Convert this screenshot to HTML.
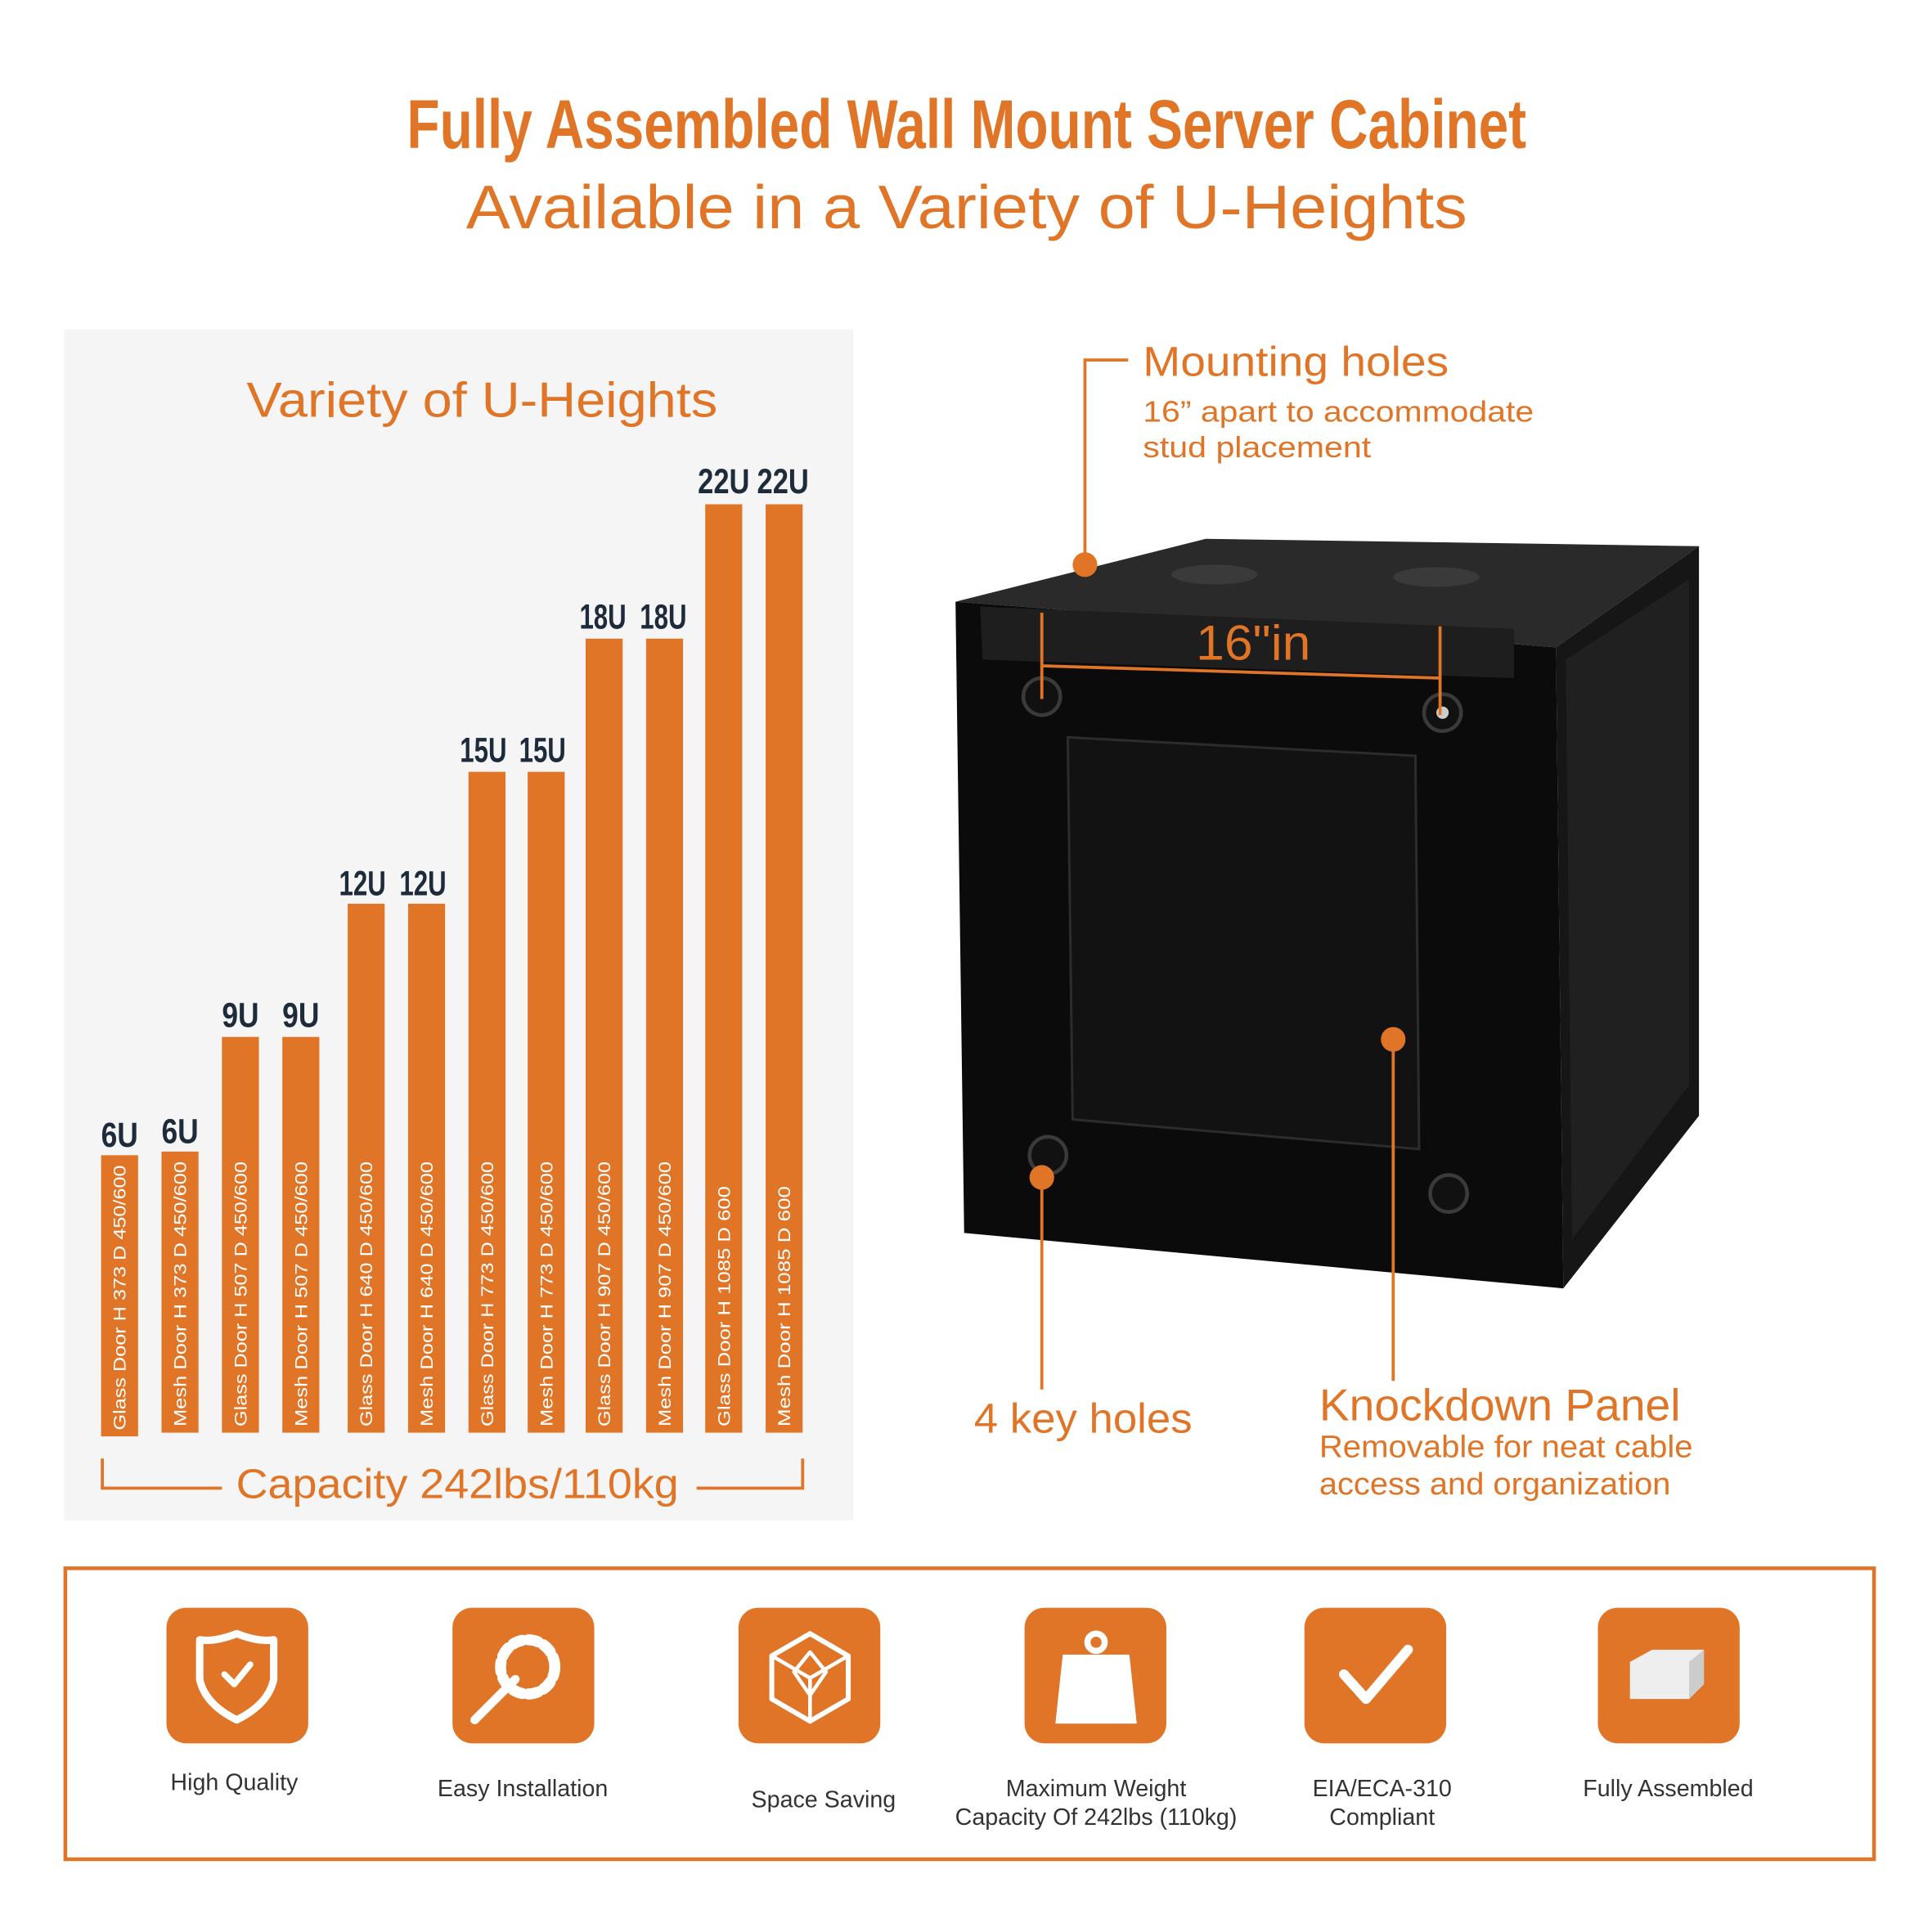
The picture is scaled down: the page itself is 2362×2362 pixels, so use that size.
<!DOCTYPE html>
<html><head><meta charset="utf-8"><style>html,body{margin:0;padding:0;background:#fff}svg{display:block}</style></head>
<body>
<svg width="2362" height="2362" viewBox="0 0 1567 1567" xmlns="http://www.w3.org/2000/svg" font-family="Liberation Sans, sans-serif">
<rect width="1567" height="1567" fill="#fff"/>
<text x="784" y="120" text-anchor="middle" font-size="56" font-weight="bold" fill="#e07527" textLength="908" lengthAdjust="spacingAndGlyphs">Fully Assembled Wall Mount Server Cabinet</text>
<text x="784" y="185" text-anchor="middle" font-size="50" fill="#e07527" textLength="812" lengthAdjust="spacingAndGlyphs">Available in a Variety of U-Heights</text>

<rect x="52" y="267" width="640" height="966" fill="#f5f5f5"/>
<text x="391" y="338" text-anchor="middle" font-size="40" fill="#e07527" textLength="382" lengthAdjust="spacingAndGlyphs">Variety of U-Heights</text>
<g fill="#e07527">
<rect x="82" y="937" width="30" height="228"/><rect x="131" y="934" width="30" height="228"/>
<rect x="180" y="841" width="30" height="321"/><rect x="229" y="841" width="30" height="321"/>
<rect x="282" y="733" width="30" height="429"/><rect x="331" y="733" width="30" height="429"/>
<rect x="380" y="626" width="30" height="536"/><rect x="428" y="626" width="30" height="536"/>
<rect x="475" y="518" width="30" height="644"/><rect x="524" y="518" width="30" height="644"/>
<rect x="572" y="409" width="30" height="753"/><rect x="621" y="409" width="30" height="753"/>
</g>
<g font-size="28" font-weight="bold" fill="#1d2b3a" text-anchor="middle">
<text x="97" y="930" textLength="30" lengthAdjust="spacingAndGlyphs">6U</text><text x="146" y="927" textLength="30" lengthAdjust="spacingAndGlyphs">6U</text>
<text x="195" y="833" textLength="30" lengthAdjust="spacingAndGlyphs">9U</text><text x="244" y="833" textLength="30" lengthAdjust="spacingAndGlyphs">9U</text>
<text x="294" y="726" textLength="38" lengthAdjust="spacingAndGlyphs">12U</text><text x="343" y="726" textLength="38" lengthAdjust="spacingAndGlyphs">12U</text>
<text x="392" y="618" textLength="38" lengthAdjust="spacingAndGlyphs">15U</text><text x="440" y="618" textLength="38" lengthAdjust="spacingAndGlyphs">15U</text>
<text x="489" y="510" textLength="38" lengthAdjust="spacingAndGlyphs">18U</text><text x="538" y="510" textLength="38" lengthAdjust="spacingAndGlyphs">18U</text>
<text x="587" y="400" textLength="42" lengthAdjust="spacingAndGlyphs">22U</text><text x="635" y="400" textLength="42" lengthAdjust="spacingAndGlyphs">22U</text>
</g>
<g font-size="14" fill="#fff">
<text transform="translate(102,1160) rotate(-90)" textLength="215" lengthAdjust="spacingAndGlyphs">Glass Door  H 373  D 450/600</text>
<text transform="translate(151,1157) rotate(-90)" textLength="215" lengthAdjust="spacingAndGlyphs">Mesh Door  H 373  D 450/600</text>
<text transform="translate(200,1157) rotate(-90)" textLength="215" lengthAdjust="spacingAndGlyphs">Glass Door  H 507  D 450/600</text>
<text transform="translate(249,1157) rotate(-90)" textLength="215" lengthAdjust="spacingAndGlyphs">Mesh Door  H 507  D 450/600</text>
<text transform="translate(302,1157) rotate(-90)" textLength="215" lengthAdjust="spacingAndGlyphs">Glass Door  H 640  D 450/600</text>
<text transform="translate(351,1157) rotate(-90)" textLength="215" lengthAdjust="spacingAndGlyphs">Mesh Door  H 640  D 450/600</text>
<text transform="translate(400,1157) rotate(-90)" textLength="215" lengthAdjust="spacingAndGlyphs">Glass Door  H 773  D 450/600</text>
<text transform="translate(448,1157) rotate(-90)" textLength="215" lengthAdjust="spacingAndGlyphs">Mesh Door  H 773  D 450/600</text>
<text transform="translate(495,1157) rotate(-90)" textLength="215" lengthAdjust="spacingAndGlyphs">Glass Door  H 907  D 450/600</text>
<text transform="translate(544,1157) rotate(-90)" textLength="215" lengthAdjust="spacingAndGlyphs">Mesh Door  H 907  D 450/600</text>
<text transform="translate(592,1157) rotate(-90)" textLength="195" lengthAdjust="spacingAndGlyphs">Glass Door  H 1085   D 600</text>
<text transform="translate(641,1157) rotate(-90)" textLength="195" lengthAdjust="spacingAndGlyphs">Mesh Door  H 1085   D 600</text>
</g>
<path d="M83 1183 V1207 H180 M565 1207 H651 V1183" stroke="#e07527" stroke-width="2.5" fill="none"/>
<text x="371" y="1215" text-anchor="middle" font-size="34" fill="#e07527" textLength="359" lengthAdjust="spacingAndGlyphs">Capacity 242lbs/110kg</text>

<!-- cabinet -->
<polygon points="775,488 978,437 1378,443 1262,525" fill="#2a2a2a"/>
<polygon points="1262,525 1378,443 1378,905 1268,1045" fill="#161616"/>
<polygon points="1270,535 1370,470 1370,880 1275,1005" fill="#202020"/>
<polygon points="775,488 1262,525 1268,1045 782,1000" fill="#0b0b0b"/>
<polygon points="795,492 1228,510 1228,550 797,535" fill="#1e1e1e"/>
<polygon points="866,598 1148,613 1151,932 870,908" fill="#121212" stroke="#2c2c2c" stroke-width="2"/>
<ellipse cx="985" cy="466" rx="35" ry="8" fill="#3a3a3a"/><ellipse cx="1165" cy="468" rx="35" ry="8" fill="#3a3a3a"/>
<g fill="#111" stroke="#3a3a3a" stroke-width="3"><circle cx="845" cy="565" r="15"/><circle cx="1170" cy="578" r="15"/><circle cx="850" cy="937" r="15"/><circle cx="1175" cy="968" r="15"/></g>
<circle cx="1170" cy="578" r="5" fill="#ccc"/>

<g stroke="#e07527" stroke-width="2.5" fill="none">
<path d="M845 497 V567 M1168 508 V580 M845 540 L1168 550"/>
<path d="M880 458 V292 H915"/>
<path d="M845 955 V1127"/>
<path d="M1130 843 V1120"/>
</g>
<g fill="#e07527"><circle cx="880" cy="458" r="10"/><circle cx="1130" cy="843" r="10"/><circle cx="845" cy="955" r="10"/></g>
<text x="970" y="535" font-size="40" fill="#e07527" textLength="93" lengthAdjust="spacingAndGlyphs">16"in</text>
<text x="927" y="305" font-size="34" fill="#e07527" textLength="248" lengthAdjust="spacingAndGlyphs">Mounting holes</text>
<text x="927" y="342" font-size="24" fill="#e07527" textLength="317" lengthAdjust="spacingAndGlyphs">16” apart to accommodate</text>
<text x="927" y="371" font-size="24" fill="#e07527" textLength="185" lengthAdjust="spacingAndGlyphs">stud placement</text>
<text x="790" y="1162" font-size="34" fill="#e07527" textLength="177" lengthAdjust="spacingAndGlyphs">4 key holes</text>
<text x="1070" y="1152" font-size="36" fill="#e07527" textLength="293" lengthAdjust="spacingAndGlyphs">Knockdown Panel</text>
<text x="1070" y="1182" font-size="25" fill="#e07527" textLength="303" lengthAdjust="spacingAndGlyphs">Removable for neat cable</text>
<text x="1070" y="1212" font-size="25" fill="#e07527" textLength="285" lengthAdjust="spacingAndGlyphs">access and organization</text>

<rect x="53" y="1272" width="1467" height="236" fill="none" stroke="#e07527" stroke-width="3"/>
<g fill="#e07527">
<rect x="135" y="1304" width="115" height="110" rx="16"/><rect x="367" y="1304" width="115" height="110" rx="16"/>
<rect x="599" y="1304" width="115" height="110" rx="16"/><rect x="831" y="1304" width="115" height="110" rx="16"/>
<rect x="1058" y="1304" width="115" height="110" rx="16"/><rect x="1296" y="1304" width="115" height="110" rx="16"/>
</g>
<g stroke="#fff" stroke-width="6" fill="none" stroke-linecap="round" stroke-linejoin="round">
<path d="M192 1325 Q210 1332 222 1330 V1362 Q218 1382 192 1395 Q166 1382 162 1362 V1330 Q174 1332 192 1325Z"/>
<path d="M182 1358 L190 1366 L203 1350" stroke-width="5"/>
<circle cx="428" cy="1352" r="22" stroke-dasharray="8 5" stroke-width="9"/>
<path d="M418 1362 L385 1395" stroke-width="7"/>
<path d="M657 1325 L688 1343 V1378 L657 1396 L626 1378 V1343Z" stroke-width="4"/>
<path d="M626 1343 L657 1361 L688 1343 M657 1361 V1396 M657 1340 L644 1356 L657 1375 L670 1356Z" stroke-width="3"/>
<path d="M1090 1358 L1108 1378 L1142 1338" stroke-width="8"/>
</g>
<g fill="#fff">
<circle cx="889" cy="1332" r="7" fill="none" stroke="#fff" stroke-width="5"/>
<path d="M862 1342 H916 L922 1398 H856Z"/>
<polygon points="1322,1348 1340,1338 1382,1338 1382,1366 1370,1378 1322,1378" fill="#eee"/>
<polygon points="1370,1348 1382,1338 1382,1366 1370,1378" fill="#ccc"/>
</g>
<g font-size="19" fill="#333" text-anchor="middle">
<text x="190" y="1452">High Quality</text>
<text x="424" y="1457">Easy Installation</text>
<text x="668" y="1466">Space Saving</text>
<text x="889" y="1457">Maximum Weight</text>
<text x="889" y="1480">Capacity Of 242lbs (110kg)</text>
<text x="1121" y="1457">EIA/ECA-310</text>
<text x="1121" y="1480">Compliant</text>
<text x="1353" y="1457">Fully Assembled</text>
</g>
</svg>
</body></html>
